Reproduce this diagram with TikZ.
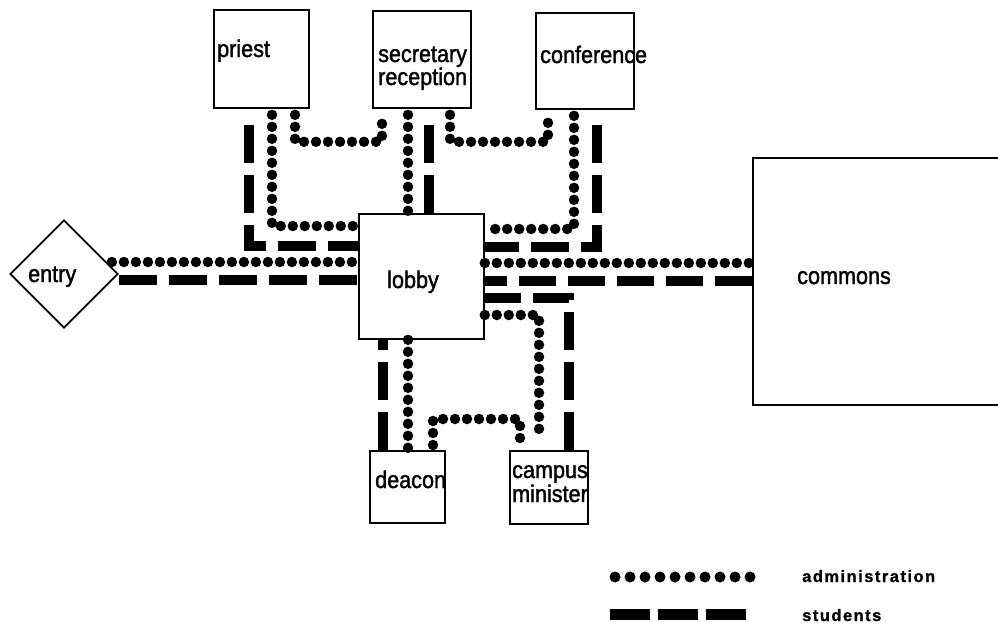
\documentclass[tikz,border=0pt]{standalone}
\usepackage{fontspec}
\setmainfont{Liberation Sans}
\newfontfamily\roomfont[FakeStretch=0.9, FakeBold=1.5]{Liberation Sans}
\newfontfamily\keyfont[LetterSpace=9, FakeBold=1]{Liberation Sans Bold}
\usetikzlibrary{shapes.geometric}

\begin{document}
\begin{tikzpicture}[x=1pt, y=-1pt,
    room/.style={draw, line width=1.8pt, inner sep=0pt, anchor=north west},
    tag/.style={inner sep=0pt, anchor=base west, font=\roomfont\fontsize{24}{28}\selectfont},
    key/.style={inner sep=0pt, anchor=base west, font=\keyfont\fontsize{16.5}{19}\selectfont},
    admin/.style={line width=10.5pt, line cap=round, dash pattern=on 0pt off 12pt},
    student/.style={line width=10pt, dash pattern=on 38pt off 12pt}]

        \useasboundingbox (0,0) rectangle (998,624);
        \clip (0,0) rectangle (998,624);

        %Rooms
        \node [room, minimum width=95, minimum height=98]  (priest)     at (213,9)   {};
        \node [room, minimum width=98, minimum height=97]  (secretary)  at (372,10)  {};
        \node [room, minimum width=98, minimum height=96]  (conference) at (535,12)  {};
        \node [room, minimum width=125, minimum height=125] (lobby)     at (358,213) {};
        \node [room, minimum width=252, minimum height=247] (commons)   at (752,157) {};
        \node [room, minimum width=75, minimum height=72]  (deacon)     at (369,450) {};
        \node [room, minimum width=78, minimum height=73]  (campus)     at (509,450) {};
        \node [draw, line width=1.8pt, diamond, inner sep=0pt,
               minimum width=108, minimum height=108]      (entry)      at (64,274)  {};

        %Labels
        \node [tag] (priest-t)     at (217,57)  {priest};
        \node [tag] (secretary-t)  at (378,62)  {secretary};
        \node [tag] (reception-t)  at (378,85)  {reception};
        \node [tag] (conference-t) at (540,63)  {conference};
        \node [tag] (entry-t)      at (28,282)  {entry};
        \node [tag] (lobby-t)      at (387,288) {lobby};
        \node [tag] (commons-t)    at (797,284) {commons};
        \node [tag] (deacon-t)     at (375,488) {deacon};
        \node [tag] (campus-t)     at (512,478) {campus};
        \node [tag] (minister-t)   at (512,502) {minister};

        %Administration
        \draw [admin, shorten <=-7pt] (entry.east |- 0,262) -- (lobby.west |- 0,262);
        \draw [admin] (lobby.east |- 0,263) -- (commons.west |- 0,263);
        \draw [admin, shorten <=6pt] (priest.south -| 272,0) |- (lobby.west |- 0,226);
        \draw [admin, shorten <=6pt, shorten >=6pt] (priest.south -| 295,0) -- ++(0,33) -| (secretary.south -| 382,0);
        \draw [admin, shorten <=6pt] (secretary.south -| 408,0) -- (lobby.north -| 408,0);
        \draw [admin, shorten <=6pt, shorten >=6pt] (secretary.south -| 450,0) -- ++(0,33) -| (conference.south -| 548,0);
        \draw [admin, shorten <=6pt] (conference.south -| 574,0) |- (lobby.east |- 0,229);
        \draw [admin, shorten >=10pt] (lobby.east |- 0,315) -| (campus.north -| 539,0);
        \draw [admin] (lobby.south -| 408,0) -- (deacon.north -| 408,0);
        \draw [admin, shorten <=5pt, shorten >=5pt] (deacon.north -| 433,0) -- ++(0,-31) -| (campus.north -| 520,0);

        %Students
        \draw [student] (entry.east |- 0,280) -- (lobby.west |- 0,280);
        \draw [student, dash pattern=on 37pt off 12pt] (commons.west |- 0,281) -- (lobby.east |- 0,281);
        \draw [student, shorten <=16pt] (priest.south -| 249,0) |- (lobby.west |- 0,246);
        \draw [student, shorten <=16pt] (secretary.south -| 429,0) -- (lobby.north -| 429,0);
        \draw [student, shorten <=15pt] (conference.south -| 597,0) |- (lobby.east |- 0,247);
        \draw [student] (deacon.north -| 383,0) -- (lobby.south -| 383,0);
        \draw [student] (campus.north -| 569,0) |- (lobby.east |- 0,298);

        %Key
        \draw [admin, line width=11pt, dash pattern=on 0pt off 15pt] (615,577) -- (750.5,577);
        \draw [student, line width=11pt, dash pattern=on 40pt off 8pt] (610,614) -- (747,614);
        \node [key] (admin-k)   at (802,582) {administration};
        \node [key] (student-k) at (802,621) {students};
\end{tikzpicture}
\end{document}
